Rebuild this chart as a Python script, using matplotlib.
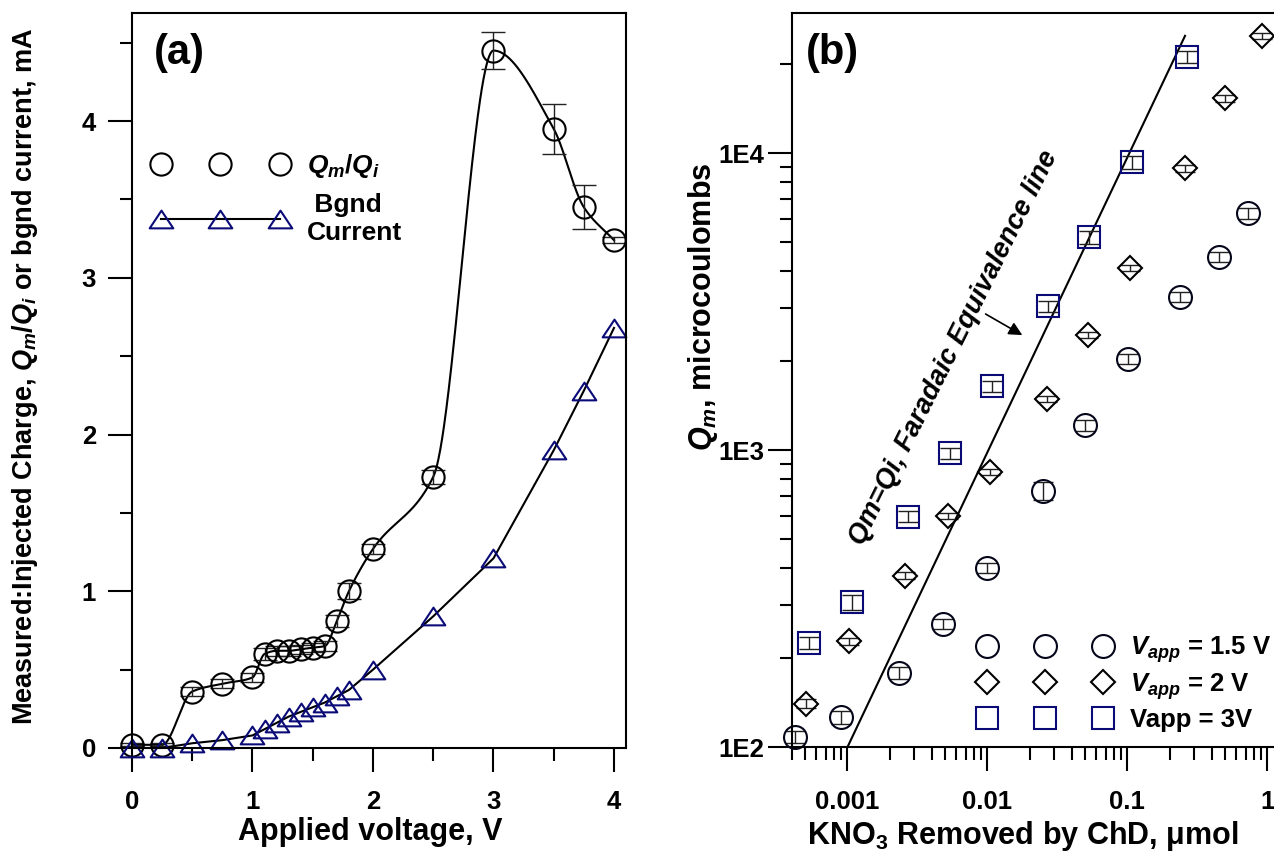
import numpy as np
import matplotlib
matplotlib.use('Agg')
import matplotlib.pyplot as plt
from matplotlib.lines import Line2D
from matplotlib.path import Path
from matplotlib.ticker import LogLocator, NullFormatter, MultipleLocator

plt.rcParams['font.family'] = ['Liberation Sans', 'DejaVu Sans']
plt.rcParams['font.weight'] = 'bold'
plt.rcParams['mathtext.fontset'] = 'custom'
plt.rcParams['mathtext.it'] = 'Liberation Sans:italic:bold'
plt.rcParams['mathtext.rm'] = 'Liberation Sans:bold'
plt.rcParams['mathtext.bf'] = 'Liberation Sans:bold'
plt.rcParams['axes.linewidth'] = 1.5

# ---- panel (a) data ----
volt = [0, 0.25, 0.5, 0.75, 1.0, 1.1, 1.2, 1.3, 1.4, 1.5, 1.6, 1.7, 1.8, 2.0, 2.5, 3.0, 3.5, 3.75, 4.0]
qratio = [0.02, 0.02, 0.36, 0.41, 0.45, 0.60, 0.62, 0.62, 0.63, 0.64, 0.65, 0.81, 1.00, 1.27, 1.73, 4.45, 3.95, 3.45, 3.24]
qratio_err = [0.01, 0.01, 0.03, 0.03, 0.03, 0.04, 0.03, 0.03, 0.03, 0.03, 0.03, 0.04, 0.05, 0.03, 0.045, 0.12, 0.16, 0.14, 0.02]
bgnd = [0.0, 0.0, 0.03, 0.05, 0.08, 0.12, 0.16, 0.20, 0.23, 0.26, 0.29, 0.33, 0.37, 0.50, 0.84, 1.21, 1.90, 2.28, 2.68]

# ---- panel (b) data ----
kno3_15 = [4.24e-4, 8.94e-4, 2.32e-3, 4.8e-3, 9.9e-3, 0.0251, 0.0498, 0.1005, 0.239, 0.451, 0.733]
q_15 = [108, 126, 178, 259, 400, 729, 1213, 2023, 3281, 4456, 6266]
q_15_err = [5, 6, 8, 10, 15, 50, 50, 80, 130, 170, 250]
kno3_2 = [5.07e-4, 1.02e-3, 2.58e-3, 5.24e-3, 0.0104, 0.0265, 0.0522, 0.104, 0.259, 0.497, 0.92]
q_2 = [140, 227, 378, 600, 841, 1486, 2439, 4093, 8870, 15280, 24770]
q_2_err = [5, 6, 10, 15, 20, 40, 60, 100, 220, 380, 600]
kno3_3 = [5.35e-4, 1.07e-3, 2.69e-3, 5.41e-3, 0.0107, 0.0269, 0.0533, 0.108, 0.268]
q_3 = [224, 308, 596, 975, 1641, 3055, 5200, 9310, 21090]
q_3_err = [10, 18, 25, 40, 70, 130, 250, 450, 1000]
faraday_x = [0.001, 0.258]
faraday_y = [100, 24800]


def pchip(x, y, xn):
    x = np.asarray(x, float)
    y = np.asarray(y, float)
    h = np.diff(x)
    d = np.diff(y) / h
    m = np.zeros_like(y)
    m[0], m[-1] = d[0], d[-1]
    for k in range(1, len(x) - 1):
        if d[k - 1] * d[k] > 0:
            w1 = 2 * h[k] + h[k - 1]
            w2 = h[k] + 2 * h[k - 1]
            m[k] = (w1 + w2) / (w1 / d[k - 1] + w2 / d[k])
    i = np.clip(np.searchsorted(x, xn) - 1, 0, len(x) - 2)
    t = (xn - x[i]) / h[i]
    h00 = 2 * t**3 - 3 * t**2 + 1
    h10 = t**3 - 2 * t**2 + t
    h01 = -2 * t**3 + 3 * t**2
    h11 = t**3 - t**2
    return h00 * y[i] + h10 * h[i] * m[i] + h01 * y[i + 1] + h11 * h[i] * m[i + 1]


navy = '#0b0b78'
tri = Path([(-1, -0.75), (1, -0.75), (0, 0.75), (-1, -0.75)],
           [Path.MOVETO, Path.LINETO, Path.LINETO, Path.CLOSEPOLY])

fig = plt.figure(figsize=(12.74, 8.52), dpi=100)

# ================= panel (a) =================
ax1 = fig.add_axes([0.1036, 0.1221, 0.3878, 0.8627])
xs = np.linspace(volt[0], volt[-1], 800)
ax1.plot(xs, pchip(volt, qratio, xs), color='k', lw=1.5)
ax1.errorbar(volt, qratio, yerr=qratio_err, fmt='none', ecolor='#222222',
             elinewidth=1.0, capsize=8.3, capthick=1.0, clip_on=False)
ax1.plot(volt, qratio, ls='none', marker='o', ms=16, mfc='none', mec='k',
         mew=1.5, clip_on=False)
ax1.plot(volt, bgnd, color='k', lw=1.5, marker=tri, ms=17, mfc='none',
         mec=navy, mew=1.5, clip_on=False)

ax1.set_xlim(0, 4.1)
ax1.set_ylim(0, 4.69)
ax1.xaxis.set_major_locator(MultipleLocator(1))
ax1.xaxis.set_minor_locator(MultipleLocator(0.5))
ax1.yaxis.set_major_locator(MultipleLocator(1))
ax1.yaxis.set_minor_locator(MultipleLocator(0.5))
ax1.tick_params(which='major', direction='out', length=17, width=1.5, labelsize=18.5)
ax1.tick_params(which='minor', direction='out', length=9, width=1.5)
ax1.tick_params(axis='x', which='major', pad=13)
ax1.tick_params(axis='y', which='major', pad=9)

ax1.set_xlabel('Applied voltage, V', fontsize=22, fontweight='bold')
ax1.xaxis.set_label_coords(0.482, -0.094)
ax1.set_ylabel('Measured:Injected Charge, $Q_m/Q_i$ or bgnd current, mA',
               fontsize=19.5, fontweight='bold')
ax1.yaxis.set_label_coords(-0.186, 0.505)

ax1.text(0.0445, 0.973, '(a)', transform=ax1.transAxes, fontsize=30,
         fontweight='bold', va='top', ha='left')

h_a = [Line2D([], [], ls='none', marker='o', ms=16, mfc='none', mec='k', mew=1.5),
       Line2D([], [], color='k', lw=1.5, marker=tri, ms=17, mfc='none', mec=navy, mew=1.5)]
ax1.legend(h_a, ['$Q_m/Q_i$', ' Bgnd\nCurrent'], loc='upper left',
           bbox_to_anchor=(0.021, 0.825), numpoints=3, handlelength=5.1,
           frameon=False, fontsize=19, borderaxespad=0, handletextpad=0.75,
           labelspacing=0.5)

# ================= panel (b) =================
ax2 = fig.add_axes([0.6215, 0.1232, 0.382, 0.8615])
ax2.set_xscale('log')
ax2.set_yscale('log')
ax2.plot(faraday_x, faraday_y, color='k', lw=1.5)

series = [
    (kno3_15, q_15, q_15_err, 'o', 16.5, '#05051a'),
    (kno3_2, q_2, q_2_err, 'D', 12.2, 'k'),
    (kno3_3, q_3, q_3_err, 's', 16.5, navy),
]
for xv, yv, ev, mk, size, ec in series:
    ax2.errorbar(xv, yv, yerr=ev, fmt='none', ecolor='#222222', elinewidth=1.0,
                 capsize=7.5, capthick=1.0, clip_on=False)
    ax2.plot(xv, yv, ls='none', marker=mk, ms=size, mfc='none', mec=ec,
             mew=1.5, clip_on=False)

ax2.set_xlim(4e-4, 1.2)
ax2.set_ylim(100, 29600)
ax2.set_xticks([1e-3, 1e-2, 1e-1, 1], labels=['0.001', '0.01', '0.1', '1'])
ax2.set_yticks([1e2, 1e3, 1e4], labels=['1E2', '1E3', '1E4'])
ax2.xaxis.set_minor_locator(LogLocator(base=10, subs=np.arange(2, 10)))
ax2.yaxis.set_minor_locator(LogLocator(base=10, subs=np.arange(2, 10)))
ax2.xaxis.set_minor_formatter(NullFormatter())
ax2.yaxis.set_minor_formatter(NullFormatter())
ax2.tick_params(which='major', direction='out', length=17, width=1.5, labelsize=18.5)
ax2.tick_params(which='minor', direction='out', length=9, width=1.5)
ax2.tick_params(axis='x', which='major', pad=14)
ax2.tick_params(axis='y', which='major', pad=3)

ax2.set_xlabel('KNO$_3$ Removed by ChD, μmol', fontsize=22, fontweight='bold')
ax2.xaxis.set_label_coords(0.474, -0.098)
ax2.set_ylabel('$Q_m$, microcoulombs', fontsize=22, fontweight='bold')
ax2.yaxis.set_label_coords(-0.148, 0.6)

ax2.text(0.029, 0.973, '(b)', transform=ax2.transAxes, fontsize=30,
         fontweight='bold', va='top', ha='left')

ax2.text(5.73e-3, 2203, 'Qm=Qi, Faradaic Equivalence line', rotation=63.5,
         rotation_mode='anchor', ha='center', va='center', fontsize=19.5,
         fontweight='bold', style='italic')
ax2.annotate('', xy=(0.01775, 2437), xytext=(9.7e-3, 2870),
             arrowprops=dict(arrowstyle='-|>', color='k', lw=1.2,
                             mutation_scale=20, shrinkA=0, shrinkB=0))

h_b = [Line2D([], [], ls='none', marker='o', ms=16.5, mfc='none', mec='#05051a', mew=1.5),
       Line2D([], [], ls='none', marker='D', ms=12.2, mfc='none', mec='k', mew=1.5),
       Line2D([], [], ls='none', marker='s', ms=16.5, mfc='none', mec=navy, mew=1.5)]
ax2.legend(h_b, ['$V_{app}$ = 1.5 V', '$V_{app}$ = 2 V', 'Vapp = 3V'],
           loc='upper left', bbox_to_anchor=(0.365, 0.168), numpoints=3,
           handlelength=5.1, frameon=False, fontsize=18.5, borderaxespad=0,
           handletextpad=0.75, labelspacing=0.24)

fig.savefig('out.png', dpi=100)
